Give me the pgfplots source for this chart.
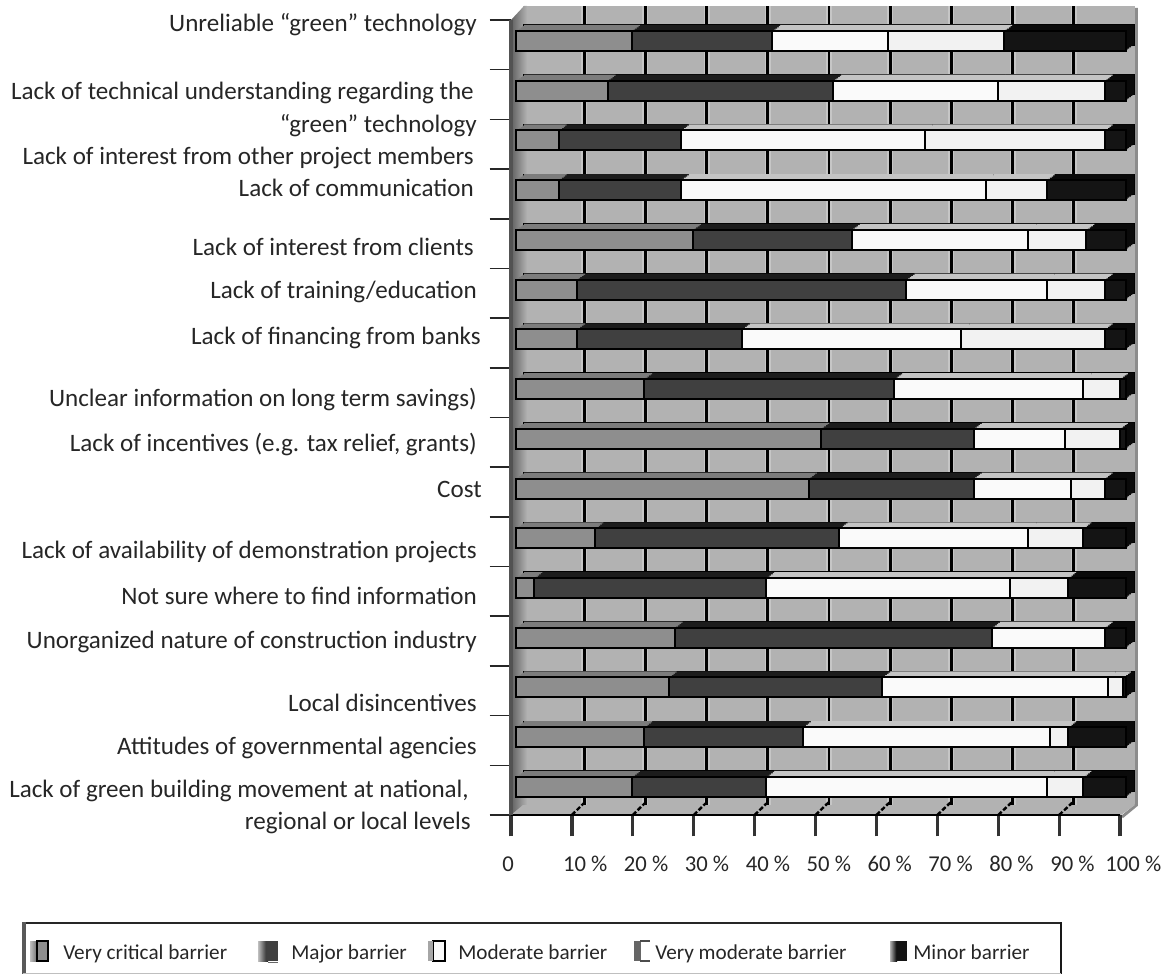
\documentclass[border=0pt]{standalone}
\usepackage{pgfplots}
\usepackage{pgfplotstable}
\pgfplotsset{compat=1.18}
\usepackage{fontspec}
\setmainfont{Carlito}

\definecolor{wallgray}{HTML}{B2B2B2}
\definecolor{wallsoft}{HTML}{C6C6C6}
\definecolor{txt}{HTML}{262626}
\definecolor{vcfront}{HTML}{8E8E8E}
\definecolor{mbfront}{HTML}{404040}
\definecolor{mofront}{HTML}{FAFAFA}
\definecolor{vmfront}{HTML}{F2F2F2}
\definecolor{mifront}{HTML}{141414}
\definecolor{vctop}{HTML}{7C7C7C}
\definecolor{mbtop}{HTML}{1C1C1C}
\definecolor{motop}{HTML}{C4C4C4}
\definecolor{vmtop}{HTML}{C4C4C4}
\definecolor{mitop}{HTML}{0A0A0A}

% Share of respondents per barrier, top row first
\pgfplotstableread{
idx vc mb mo vm mi
0  19 23 19 19 20
1  15 37 27 17.5 3.5
2  7  20 40 29.5 3.5
3  7  20 50 10 13
4  29 26 29 9.5 6.5
5  10 54 23 9.5 3.5
6  10 27 36 23.5 3.5
7  21 41 31 6  1
8  50 25 15 9  1
9  48 27 16 5.5 3.5
10 13 40 31 9  7
11 3  38 40 9.5 9.5
12 26 52 18.5 0 3.5
13 25 35 37 2.5 0.5
14 21 26 40.5 3 9.5
15 19 22 46 6  7
}\barvalues

\pgfplotsset{barframe/.style={
  hide axis, scale only axis, clip=false,
  width=457.5pt, height=596.8pt,
  xmin=0, xmax=100, ymin=-0.5, ymax=15.5, y dir=reverse,
  xbar stacked, bar width=15pt, anchor=south west}}

% One slice of the extruded bars: x/y offset in px, five fills, outline options
\newcommand{\barlayer}[8]{%
  \begin{axis}[barframe, at={({(516+#1)*0.75pt},{-(811.8-#2)*0.75pt})}]
    \addplot[#8, fill=#3] table[x=vc, y=idx] {\barvalues};
    \addplot[#8, fill=#4] table[x=mb, y=idx] {\barvalues};
    \addplot[#8, fill=#5] table[x=mo, y=idx] {\barvalues};
    \addplot[#8, fill=#6] table[x=vm, y=idx] {\barvalues};
    \addplot[#8, fill=#7] table[x=mi, y=idx] {\barvalues};
  \end{axis}}

\newcommand{\lab}[3]{\node[anchor=east, inner sep=0pt, text=txt, font=\fontsize{18.8}{21}\selectfont] at ({#1*0.75pt},{-(#2+1)*0.75pt}) {#3};}
\newcommand{\leg}[2]{\node[anchor=base west, inner sep=0pt, text=txt, font=\fontsize{15.9}{18}\selectfont] at ({#1*0.75pt},{-959*0.75pt}) {#2};}
\newcommand{\PP}[2]{({#1*0.75pt},{-#2*0.75pt})}

\begin{document}
\begin{tikzpicture}
\useasboundingbox (0,0) rectangle (876pt,-730.5pt);

% Back wall with its vertical gridlines
\begin{axis}[
  scale only axis, at={(392.25pt,-603.75pt)}, anchor=south west,
  width=459pt, height=599.25pt,
  xmin=0, xmax=100, ymin=0, ymax=1,
  axis line style={draw=none}, tick style={draw=none},
  xtick={10,20,...,90}, ytick=\empty, xticklabels={},
  xmajorgrids,
  grid style={preaction={draw=wallsoft, line width=4.5pt}, draw=black, line width=2.1pt},
  axis background/.style={fill=wallgray}]
\end{axis}

% Right rim of the wall
\draw[line width=2.2pt, draw=black!45] \PP{1136.5}{8} -- \PP{1136.5}{805} -- \PP{1122}{817};

% Left wall and floor
\shade[left color=black!62, right color=wallgray] \PP{511}{20} -- \PP{524}{6} -- \PP{527}{6} -- \PP{527}{805} -- \PP{511}{815} -- cycle;
\fill[wallgray] \PP{511}{815} -- \PP{1121}{815} -- \PP{1135}{805} -- \PP{523}{805} -- cycle;
\foreach \t in {1,...,9}
  \draw[black, line width=1.8pt, dash pattern=on 3.5pt off 1.6pt]
    \PP{(511+60.9*\t)}{815} -- \PP{(524+61*\t)}{802};

% Extruded bars, back to front
\barlayer{8}{6}{vctop}{mbtop}{motop}{vmtop}{mitop}{draw=black, line width=0.9pt}
\foreach \k in {5,4,3,2,1} {
  \barlayer{\k*1.6}{\k*1.2}{vctop}{mbtop}{motop}{vmtop}{mitop}{draw=none}
}
\barlayer{0}{0}{vcfront}{mbfront}{mofront}{vmfront}{mifront}{draw=black, line width=1.5pt}

% Front axis lines, ticks and percent labels
\begin{axis}[
  scale only axis, at={(383.25pt,-611.25pt)}, anchor=south west,
  width=456.75pt, height=596.25pt,
  xmin=0, xmax=100, ymin=0, ymax=16,
  axis x line*=bottom, axis y line*=left,
  x axis line style={draw=black, line width=1.2pt, -},
  y axis line style={draw=black!68, line width=3.4pt, -},
  xtick={0,10,...,100}, ytick={0,1,...,16}, yticklabels={},
  xticklabels={\kern-24.5pt 0,10 \%,20 \%,30 \%,40 \%,50 \%,60 \%,70 \%,80 \%,90 \%,100 \%},
  xticklabel style={xshift=10pt, yshift=-11.5pt, text=txt, font=\fontsize{17}{20}\selectfont},
  xtick align=outside, ytick align=outside,
  x tick style={draw=black!80, line width=2.4pt},
  y tick style={draw=black!85, line width=1.2pt},
  major tick length=16pt,
  clip=false]
\end{axis}

% Barrier names
\lab{477}{24}{Unreliable “green” technology}
\lab{474}{92}{Lack of technical understanding regarding the}
\lab{477}{125}{“green” technology}
\lab{474}{157}{Lack of interest from other project members}
\lab{474}{187}{Lack of communication}
\lab{474}{246}{Lack of interest from clients}
\lab{477}{291}{Lack of training/education}
\lab{481}{337}{Lack of financing from banks}
\lab{477}{398}{Unclear information on long term savings)}
\lab{477}{443}{Lack of incentives (e.g. tax relief, grants)}
\lab{482}{488}{Cost}
\lab{477}{551}{Lack of availability of demonstration projects}
\lab{477}{595}{Not sure where to find information}
\lab{477}{641}{Unorganized nature of construction industry}
\lab{477}{702}{Local disincentives}
\lab{477}{747}{Attitudes of governmental agencies}
\lab{469}{790}{Lack of green building movement at national,}
\lab{471}{822}{regional or local levels}

% Key
\draw[line width=1.5pt, black!85] \PP{23}{923} -- \PP{1061}{923};
\draw[line width=3.6pt, black!65] \PP{24}{922} -- \PP{24}{975};
\draw[line width=2.2pt, black!90] \PP{1061}{922} -- \PP{1061}{975};
\draw[line width=0.6pt, black!25] \PP{23}{973} -- \PP{1061}{973};

\shade[left color=black!25, right color=black!60] \PP{30}{941} rectangle \PP{38}{961};
\draw[black, line width=1.6pt, fill=vcfront] \PP{37}{941} rectangle \PP{48}{961};
\shade[left color=black!25, right color=black!90] \PP{258}{941} rectangle \PP{268}{961};
\fill[mbfront] \PP{266}{941} rectangle \PP{278}{961};
\draw[black!60, line width=0.6pt] \PP{268}{962} -- \PP{278}{962};
\draw[black, line width=1.6pt, fill=mofront] \PP{433}{941} rectangle \PP{445}{961};
\fill[black!35] \PP{428}{941} rectangle \PP{433}{961};
\fill[black!60] \PP{634}{941} rectangle \PP{641}{961};
\draw[black!70, line width=1pt] \PP{640}{941} -- \PP{650}{941} \PP{640}{961} -- \PP{650}{961};
\shade[left color=black!30, right color=black] \PP{890}{941} rectangle \PP{897}{961};
\fill[mifront] \PP{897}{941} rectangle \PP{907}{961};

\leg{63}{Very critical barrier}
\leg{291}{Major barrier}
\leg{458}{Moderate barrier}
\leg{655}{Very moderate barrier}
\leg{913}{Minor barrier}
\end{tikzpicture}
\end{document}
